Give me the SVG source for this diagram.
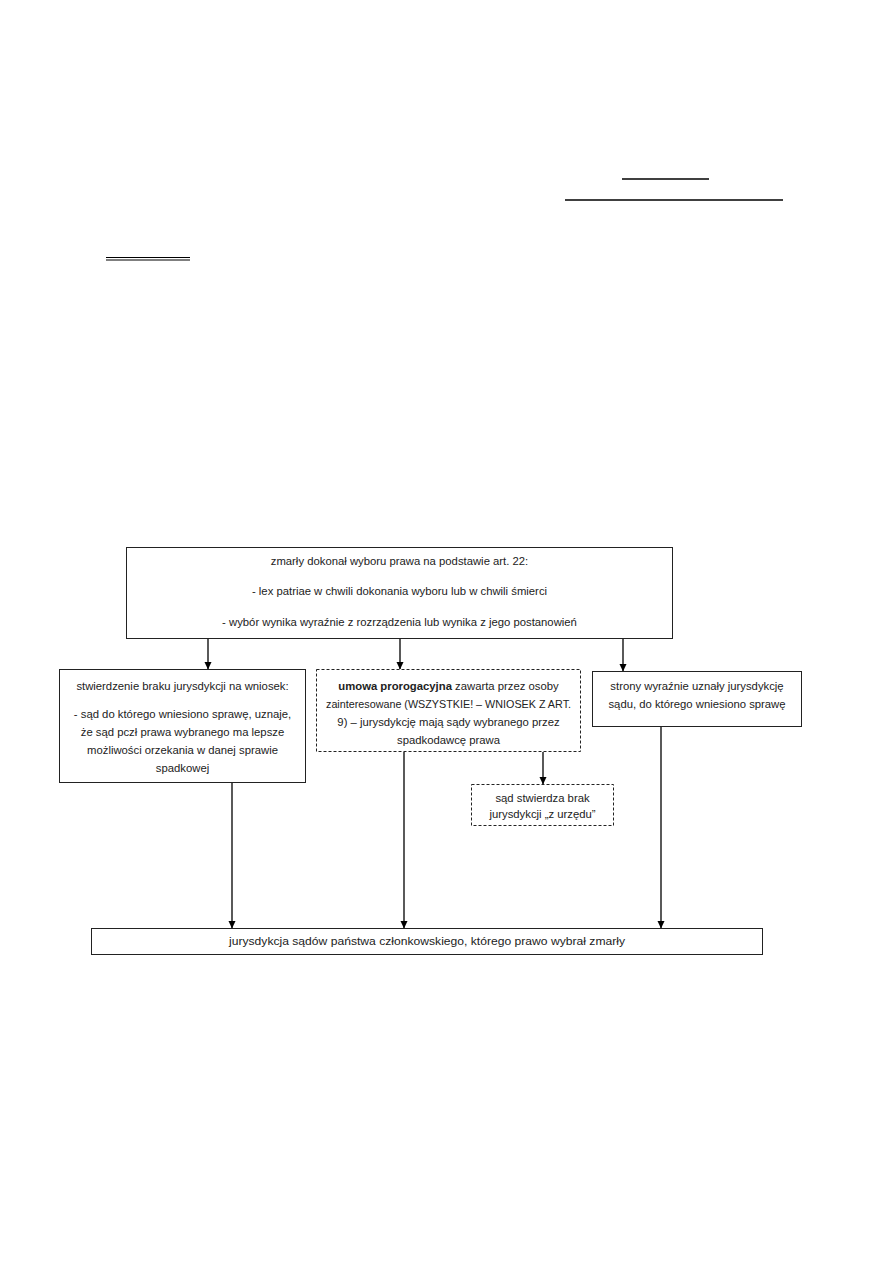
<svg xmlns="http://www.w3.org/2000/svg" width="893" height="1263" viewBox="0 0 893 1263">
<style>
.box{fill:#fff;stroke:#222;stroke-width:1}
.dash{fill:#fff;stroke:#222;stroke-width:1;stroke-dasharray:3 2}
.t{font-family:"Liberation Sans",Arial,sans-serif;font-size:11.3px;fill:#222;text-anchor:middle;dominant-baseline:central}
.b{font-weight:bold}
.c{stroke:#000;stroke-width:1.3;fill:none}
.ul{stroke:#000;stroke-width:1.5}
</style>
<defs>
<marker id="ah" markerWidth="8" markerHeight="8" refX="7" refY="4" orient="auto" markerUnits="userSpaceOnUse">
<path d="M0,0.5 L7.5,4 L0,7.5 Z" fill="#000"/>
</marker>
</defs>
<rect width="893" height="1263" fill="#fff"/>
<g id="underlines">
<line class="ul" x1="622" y1="179" x2="709" y2="179"/>
<line class="ul" x1="565" y1="200" x2="783" y2="200"/>
<line x1="106" y1="257.5" x2="190" y2="257.5" stroke="#000" stroke-width="1"/>
<line x1="106" y1="260" x2="190" y2="260" stroke="#000" stroke-width="1"/>
</g>
<g id="connectors">
<line class="c" x1="208" y1="639" x2="208" y2="669" marker-end="url(#ah)"/>
<line class="c" x1="400" y1="639" x2="400" y2="669" marker-end="url(#ah)"/>
<line class="c" x1="623" y1="639" x2="623" y2="671" marker-end="url(#ah)"/>
<line class="c" x1="543" y1="752" x2="543" y2="784" marker-end="url(#ah)"/>
<line class="c" x1="232" y1="783" x2="232" y2="928" stroke-width="1.8" marker-end="url(#ah)"/>
<line class="c" x1="404" y1="752" x2="404" y2="928" stroke-width="1.8" marker-end="url(#ah)"/>
<line class="c" x1="661" y1="727" x2="661" y2="928" stroke-width="1.8" marker-end="url(#ah)"/>
</g>
<g id="top">
<rect class="box" x="126.5" y="547.5" width="546" height="91"/>
<text class="t" x="399.5" y="561">zmarły dokonał wyboru prawa na podstawie art. 22:</text>
<text class="t" x="399.5" y="591">- lex patriae w chwili dokonania wyboru lub w chwili śmierci</text>
<text class="t" x="399.5" y="622">- wybór wynika wyraźnie z rozrządzenia lub wynika z jego postanowień</text>
</g>
<g id="left">
<rect class="box" x="59.5" y="669.5" width="246" height="113"/>
<text class="t" x="182.5" y="686">stwierdzenie braku jurysdykcji na wniosek:</text>
<text class="t" x="182.5" y="714">- sąd do którego wniesiono sprawę, uznaje,</text>
<text class="t" x="182.5" y="732">że sąd pczł prawa wybranego ma lepsze</text>
<text class="t" x="182.5" y="750">możliwości orzekania w danej sprawie</text>
<text class="t" x="182.5" y="768">spadkowej</text>
</g>
<g id="middle">
<rect class="dash" x="316.5" y="669.5" width="264" height="82"/>
<text class="t" x="448.5" y="686"><tspan class="b">umowa prorogacyjna</tspan> zawarta przez osoby</text>
<text class="t" x="448.5" y="704" textLength="245" lengthAdjust="spacingAndGlyphs">zainteresowane (WSZYSTKIE! – WNIOSEK Z ART.</text>
<text class="t" x="448.5" y="722">9) – jurysdykcję mają sądy wybranego przez</text>
<text class="t" x="448.5" y="740">spadkodawcę prawa</text>
</g>
<g id="right">
<rect class="box" x="592.5" y="671.5" width="209" height="55"/>
<text class="t" x="697" y="686">strony wyraźnie uznały jurysdykcję</text>
<text class="t" x="697" y="704">sądu, do którego wniesiono sprawę</text>
</g>
<g id="small">
<rect class="dash" x="471.5" y="784.5" width="142" height="41"/>
<text class="t" x="542.5" y="798">sąd stwierdza brak</text>
<text class="t" x="542.5" y="814">jurysdykcji „z urzędu”</text>
</g>
<g id="bottom">
<rect class="box" x="91.5" y="928.5" width="671" height="26"/>
<text class="t" x="427" y="941" textLength="396" lengthAdjust="spacingAndGlyphs">jurysdykcja sądów państwa członkowskiego, którego prawo wybrał zmarły</text>
</g>
</svg>
